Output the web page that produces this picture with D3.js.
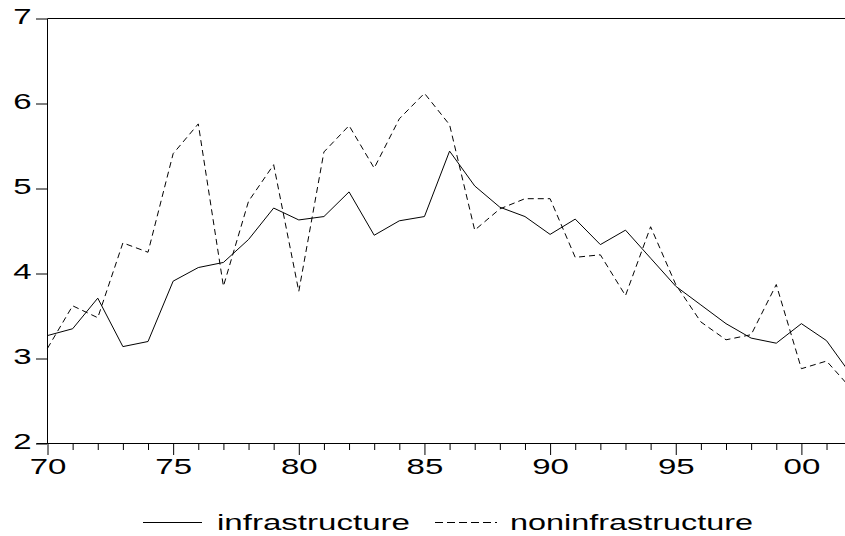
<!DOCTYPE html>
<html>
<head>
<meta charset="utf-8">
<script src="https://cdn.jsdelivr.net/npm/d3@7/dist/d3.min.js"></script>
<style>
  html, body { margin: 0; padding: 0; background: #fff; }
  svg { display: block; }
  text { font-family: "Liberation Sans", Arial, sans-serif; fill: #000; }
</style>
</head>
<body>
<svg id="chart" width="845" height="536"></svg>
<script>
// ---- data ----
const years = [1970,1971,1972,1973,1974,1975,1976,1977,1978,1979,1980,1981,1982,1983,1984,1985,1986,1987,1988,1989,1990,1991,1992,1993,1994,1995,1996,1997,1998,1999,2000,2001,2002];
const infrastructure = [3.27,3.35,3.71,3.14,3.20,3.91,4.07,4.13,4.40,4.77,4.63,4.67,4.96,4.45,4.62,4.67,5.44,5.03,4.78,4.67,4.46,4.64,4.34,4.51,4.18,3.85,3.63,3.41,3.24,3.18,3.41,3.21,2.80];
const noninfrastructure = [3.12,3.62,3.48,4.36,4.25,5.41,5.76,3.85,4.85,5.28,3.79,5.43,5.74,5.24,5.82,6.12,5.75,4.51,4.76,4.88,4.88,4.19,4.22,3.74,4.55,3.87,3.43,3.22,3.28,3.87,2.88,2.97,2.64];
const yTicks = [2,3,4,5,6,7];
const seriesNames = ["infrastructure","noninfrastructure"];

(function () {
// ---- layout ----
const svg = d3.select("#chart");
const plotLeft = 47.5, plotTop = 18.5, plotBottom = 443.5, yearPx = 25.13;
const x = d3.scaleLinear().domain([1970, 2002]).range([plotLeft, plotLeft + 32 * yearPx]);
const y = d3.scaleLinear().domain([2, 7]).range([plotBottom, plotTop]);
const SX = 1.5; // horizontal stretch of the text

// top frame
svg.append("line").attr("x1", plotLeft).attr("x2", 845).attr("y1", plotTop).attr("y2", plotTop)
  .attr("stroke", "#000").attr("stroke-width", 1);

// x axis
const xAxis = d3.axisBottom(x).tickValues(years).tickSize(7).tickSizeOuter(0)
  .tickFormat(d => d % 5 === 0 ? String(d % 100).padStart(2, "0") : "");
const gx = svg.append("g").attr("transform", `translate(0,${plotBottom - 0.5})`).call(xAxis);
gx.select(".domain").attr("stroke", "#000").attr("d", `M${plotLeft - 11},0.5H845`);
gx.selectAll(".tick line").attr("stroke", "#000").attr("y2", d => d % 5 === 0 ? 12 : 7);
gx.selectAll(".tick text")
  .attr("y", 31.5).attr("dy", 0)
  .attr("transform", `scale(${SX},1)`)
  .style("font-size", "22px").attr("fill", "#000");

// y axis
const yAxis = d3.axisLeft(y).tickValues(yTicks).tickSize(11).tickSizeOuter(0).tickFormat(d3.format("d"));
const gy = svg.append("g").attr("transform", `translate(${plotLeft - 0.5},0)`).call(yAxis);
gy.select(".domain").attr("stroke", "#000").attr("d", `M0.5,${plotTop}V${plotBottom}`);
gy.selectAll(".tick line").attr("stroke", "#000");
gy.selectAll(".tick text")
  .attr("x", -15.5 / SX).attr("dy", 0).attr("y", 4.5)
  .attr("transform", `scale(${SX},1)`)
  .style("font-size", "22px").attr("fill", "#000");
svg.selectAll(".tick text").style("font-family", '"Liberation Sans", Arial, sans-serif');

// lines
const line = d3.line().x((d, i) => x(years[i])).y(d => y(d));
svg.append("path").datum(noninfrastructure).attr("d", line)
  .attr("fill", "none").attr("stroke", "#000").attr("stroke-width", 1)
  .attr("stroke-dasharray", "6,4");
svg.append("path").datum(infrastructure).attr("d", line)
  .attr("fill", "none").attr("stroke", "#000").attr("stroke-width", 1);

// legend
const lg = svg.append("g");
lg.append("line").attr("x1", 143).attr("x2", 202).attr("y1", 522.5).attr("y2", 522.5)
  .attr("stroke", "#000").attr("stroke-width", 1);
lg.append("text").attr("x", 217).attr("y", 529.5).style("font-size", "22px")
  .attr("textLength", 193).attr("lengthAdjust", "spacingAndGlyphs").text(seriesNames[0]);
lg.append("line").attr("x1", 435).attr("x2", 497).attr("y1", 522.5).attr("y2", 522.5)
  .attr("stroke", "#000").attr("stroke-width", 1).attr("stroke-dasharray", "8,4");
lg.append("text").attr("x", 510).attr("y", 529.5).style("font-size", "22px")
  .attr("textLength", 243).attr("lengthAdjust", "spacingAndGlyphs").text(seriesNames[1]);
})();
</script>
</body>
</html>
